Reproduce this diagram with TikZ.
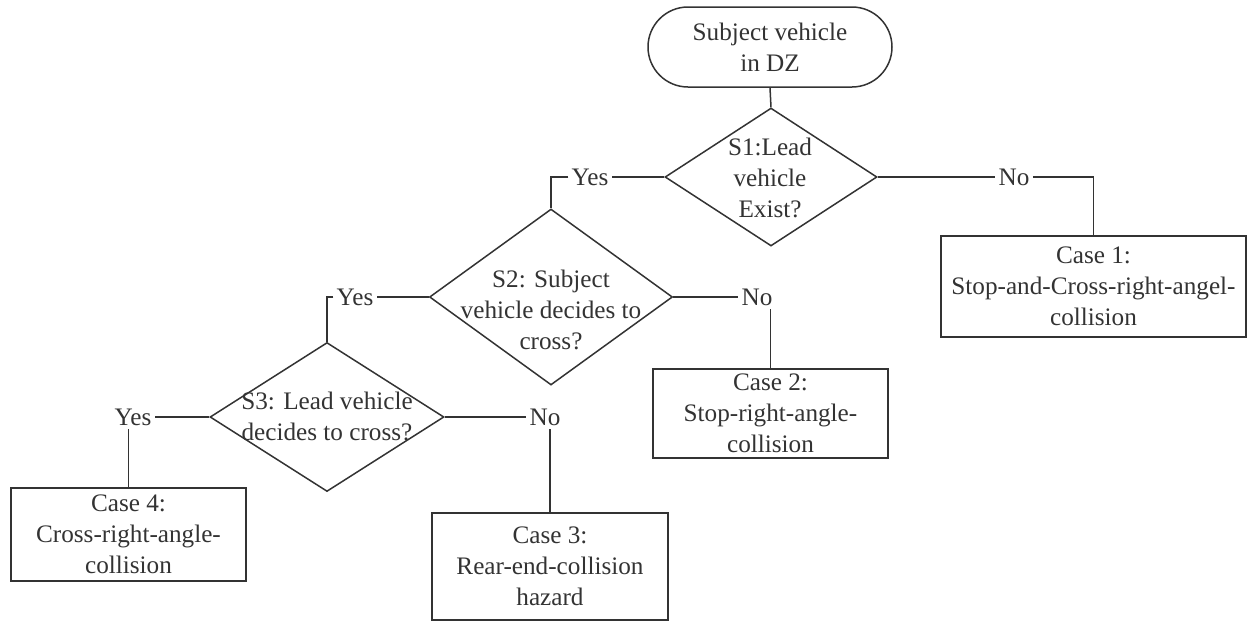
\documentclass[tikz,border=0pt]{standalone}
\usepackage{fontspec}
\setmainfont{Liberation Serif}
\usetikzlibrary{shapes.geometric}
\definecolor{ink}{HTML}{333333}
\begin{document}
\begin{tikzpicture}[x=0.5pt,y=-0.5pt,
  every node/.style={text=ink,font=\fontsize{12.6}{15.5}\selectfont,align=center},
  line/.style={draw=ink,line width=0.75pt},
  startbox/.style={line,rectangle,rounded corners=20pt,minimum width=122pt,minimum height=40pt,inner sep=0pt},
  decision/.style={line,diamond,inner sep=0pt},
  casebox/.style={line,rectangle,inner sep=0pt},
  answer/.style={inner sep=1.5pt}]
\useasboundingbox (0,0) rectangle (1249,622);

% start terminator
\node[startbox] (start) at (770,47) {Subject vehicle\\in DZ};

% decision diamonds and their questions
\node[decision,minimum width=106pt,minimum height=69pt] (s1) at (771,177) {};
\node (s1t) at (770,178) {S1:Lead\\vehicle\\Exist?};
\node[decision,minimum width=121.5pt,minimum height=88pt] (s2) at (551,297) {};
\node (s2t) at (551,310) {S2: Subject\\vehicle decides to\\cross?};
\node[decision,minimum width=117pt,minimum height=74.5pt] (s3) at (327,417) {};
\node (s3t) at (327,416) {S3: Lead vehicle\\decides to cross?};

% outcome boxes
\node[casebox,minimum width=152.5pt,minimum height=50.5pt] (c1) at (1093.5,286.5) {Case 1:\\Stop-and-Cross-right-angel-\\collision};
\node[casebox,minimum width=117.5pt,minimum height=44.5pt] (c2) at (770.5,413.5) {Case 2:\\Stop-right-angle-\\collision};
\node[casebox,minimum width=118pt,minimum height=53.5pt] (c3) at (550,566.5) {Case 3:\\Rear-end-collision\\hazard};
\node[casebox,minimum width=117.5pt,minimum height=46.5pt] (c4) at (128.5,534.5) {Case 4:\\Cross-right-angle-\\collision};

% branch labels
\node[answer] (y1) at (590,177) {Yes};
\node[answer] (n1) at (1014,177) {No};
\node[answer] (y2) at (355,297) {Yes};
\node[answer] (n2) at (757,297) {No};
\node[answer] (y3) at (133,417) {Yes};
\node[answer] (n3) at (545,417) {No};

% connectors
\draw[line] (start.south) -- (s1.north);
\draw[line] (s1.west) -- (y1.east);
\draw[line] (y1.west) -| (s2.north);
\draw[line] (s1.east) -- (n1.west);
\draw[line] (n1.east) -| (c1.north);
\draw[line] (s2.west) -- (y2.east);
\draw[line] (y2.west) -| (s3.north);
\draw[line] (s2.east) -- (n2.west);
\draw[line] (c2.north) -- (c2.north |- n2.south);
\draw[line] (s3.west) -- (y3.east);
\draw[line] (c4.north) -- (c4.north |- y3.south);
\draw[line] (s3.east) -- (n3.west);
\draw[line] (c3.north) -- (c3.north |- n3.south);
\end{tikzpicture}
\end{document}
